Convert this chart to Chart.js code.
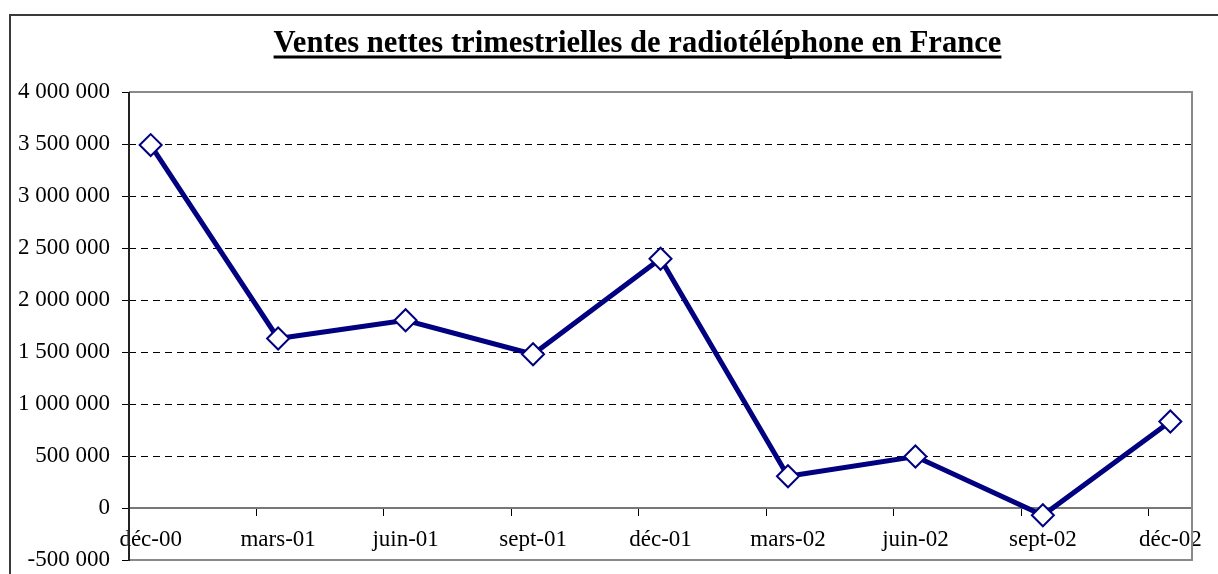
<!DOCTYPE html>
<html lang="fr">
<head>
<meta charset="utf-8">
<title>Ventes nettes trimestrielles de radiotéléphone en France</title>
<script src="https://cdn.jsdelivr.net/npm/chart.js@4.4.1/dist/chart.umd.min.js"></script>
<style>
    html, body { margin: 0; padding: 0; background: #fff; }
    #wrap { width: 1218px; height: 574px; }
</style>
</head>
<body>
<div id="wrap"><canvas id="salesChart" width="1218" height="574"></canvas></div>
<script>
// Data
const chartTitle = 'Ventes nettes trimestrielles de radiotéléphone en France';
const categories = ['déc-00', 'mars-01', 'juin-01', 'sept-01', 'déc-01', 'mars-02', 'juin-02', 'sept-02', 'déc-02'];
const sales = [3490000, 1630000, 1805000, 1478000, 2397000, 305000, 495000, -70000, 832000];
const yTicks = [-500000, 0, 500000, 1000000, 1500000, 2000000, 2500000, 3000000, 3500000, 4000000];

const serif = '"Liberation Serif", "Times New Roman", serif';
const navy = '#000080';
const tickShift = 0.17; // x ticks sit a bit before each point, like the Excel date axis

function formatNumber(value) {
    return String(value).replace(/\B(?=(\d{3})+(?!\d))/g, ' ');
}

// Outer frame, plot frame, underlined title
const framePlugin = {
    id: 'frame',
    beforeDraw(chart) {
        const ctx = chart.ctx;
        ctx.save();
        ctx.strokeStyle = '#3a3a3a';
        ctx.lineWidth = 2;
        ctx.strokeRect(10, 15, 1400, 800);
        ctx.restore();
    },
    beforeDatasetsDraw(chart) {
        const { ctx, chartArea } = chart;
        ctx.save();
        ctx.strokeStyle = '#8a8a8a';
        ctx.lineWidth = 2;
        ctx.beginPath();
        ctx.moveTo(chartArea.left, chartArea.top);
        ctx.lineTo(chartArea.right, chartArea.top);
        ctx.lineTo(chartArea.right, chartArea.bottom);
        ctx.lineTo(chartArea.left, chartArea.bottom);
        ctx.stroke();
        // y axis line on top of the grey frame
        ctx.strokeStyle = '#222';
        ctx.beginPath();
        ctx.moveTo(chartArea.left, chartArea.top);
        ctx.lineTo(chartArea.left, chartArea.bottom + 1);
        ctx.stroke();
        ctx.restore();
    },
    afterDraw(chart) {
        const ctx = chart.ctx;
        const cx = 637.5;
        ctx.save();
        ctx.font = 'bold 30.6px ' + serif;
        ctx.fillStyle = '#000';
        ctx.textAlign = 'center';
        ctx.textBaseline = 'alphabetic';
        ctx.fillText(chartTitle, cx, 52);
        const w = ctx.measureText(chartTitle).width;
        ctx.fillRect(cx - w / 2, 55.5, w, 3);
        ctx.restore();
    }
};

const ctxSales = document.getElementById('salesChart').getContext('2d');

new Chart(ctxSales, {
    type: 'line',
    data: {
        datasets: [{
            label: 'Ventes',
            data: sales.map((v, i) => ({ x: i, y: v })),
            borderColor: navy,
            borderWidth: 5,
            tension: 0,
            pointStyle: 'rectRot',
            pointRadius: 11,
            pointBorderWidth: 2,
            pointBorderColor: navy,
            pointBackgroundColor: '#ffffff',
            clip: false
        }]
    },
    options: {
        responsive: false,
        animation: false,
        layout: { padding: { top: 92, right: 26, bottom: 14, left: 0 } },
        plugins: {
            legend: { display: false },
            title: { display: false },
            tooltip: { enabled: false }
        },
        scales: {
            x: {
                type: 'linear',
                position: { y: 0 },
                min: -tickShift,
                max: categories.length - 1 + tickShift,
                afterBuildTicks: function (scale) {
                    scale.ticks = categories.map((c, i) => ({ value: i - tickShift }));
                },
                afterFit: function (scale) {
                    scale.paddingLeft = 0;
                    scale.paddingRight = 0;
                    scale.height = 0;
                },
                ticks: {
                    autoSkip: false,
                    maxRotation: 0,
                    labelOffset: 21.7,
                    padding: 11,
                    color: '#000',
                    font: { family: serif, size: 23 },
                    callback: function (value, index) {
                        return categories[index];
                    }
                },
                grid: {
                    drawOnChartArea: false,
                    tickLength: 7,
                    tickColor: '#000',
                    color: '#000'
                },
                border: { color: '#777', width: 2 }
            },
            y: {
                min: yTicks[0],
                max: yTicks[yTicks.length - 1],
                afterFit: function (scale) {
                    scale.width = 129;
                    scale.paddingTop = 0;
                    scale.paddingBottom = 0;
                },
                afterBuildTicks: function (scale) {
                    scale.ticks = yTicks.map(v => ({ value: v }));
                },
                ticks: {
                    padding: 12,
                    color: '#000',
                    font: { family: serif, size: 23 },
                    callback: function (value) {
                        return formatNumber(value);
                    }
                },
                grid: {
                    tickLength: 7,
                    tickColor: '#000',
                    color: function (context) {
                        const v = context.tick ? context.tick.value : null;
                        if (v === 0 || v === yTicks[0] || v === yTicks[yTicks.length - 1]) {
                            return 'rgba(0,0,0,0)';
                        }
                        return '#000';
                    }
                },
                border: { display: false, dash: [7, 5] }
            }
        }
    },
    plugins: [framePlugin]
});
</script>
</body>
</html>
